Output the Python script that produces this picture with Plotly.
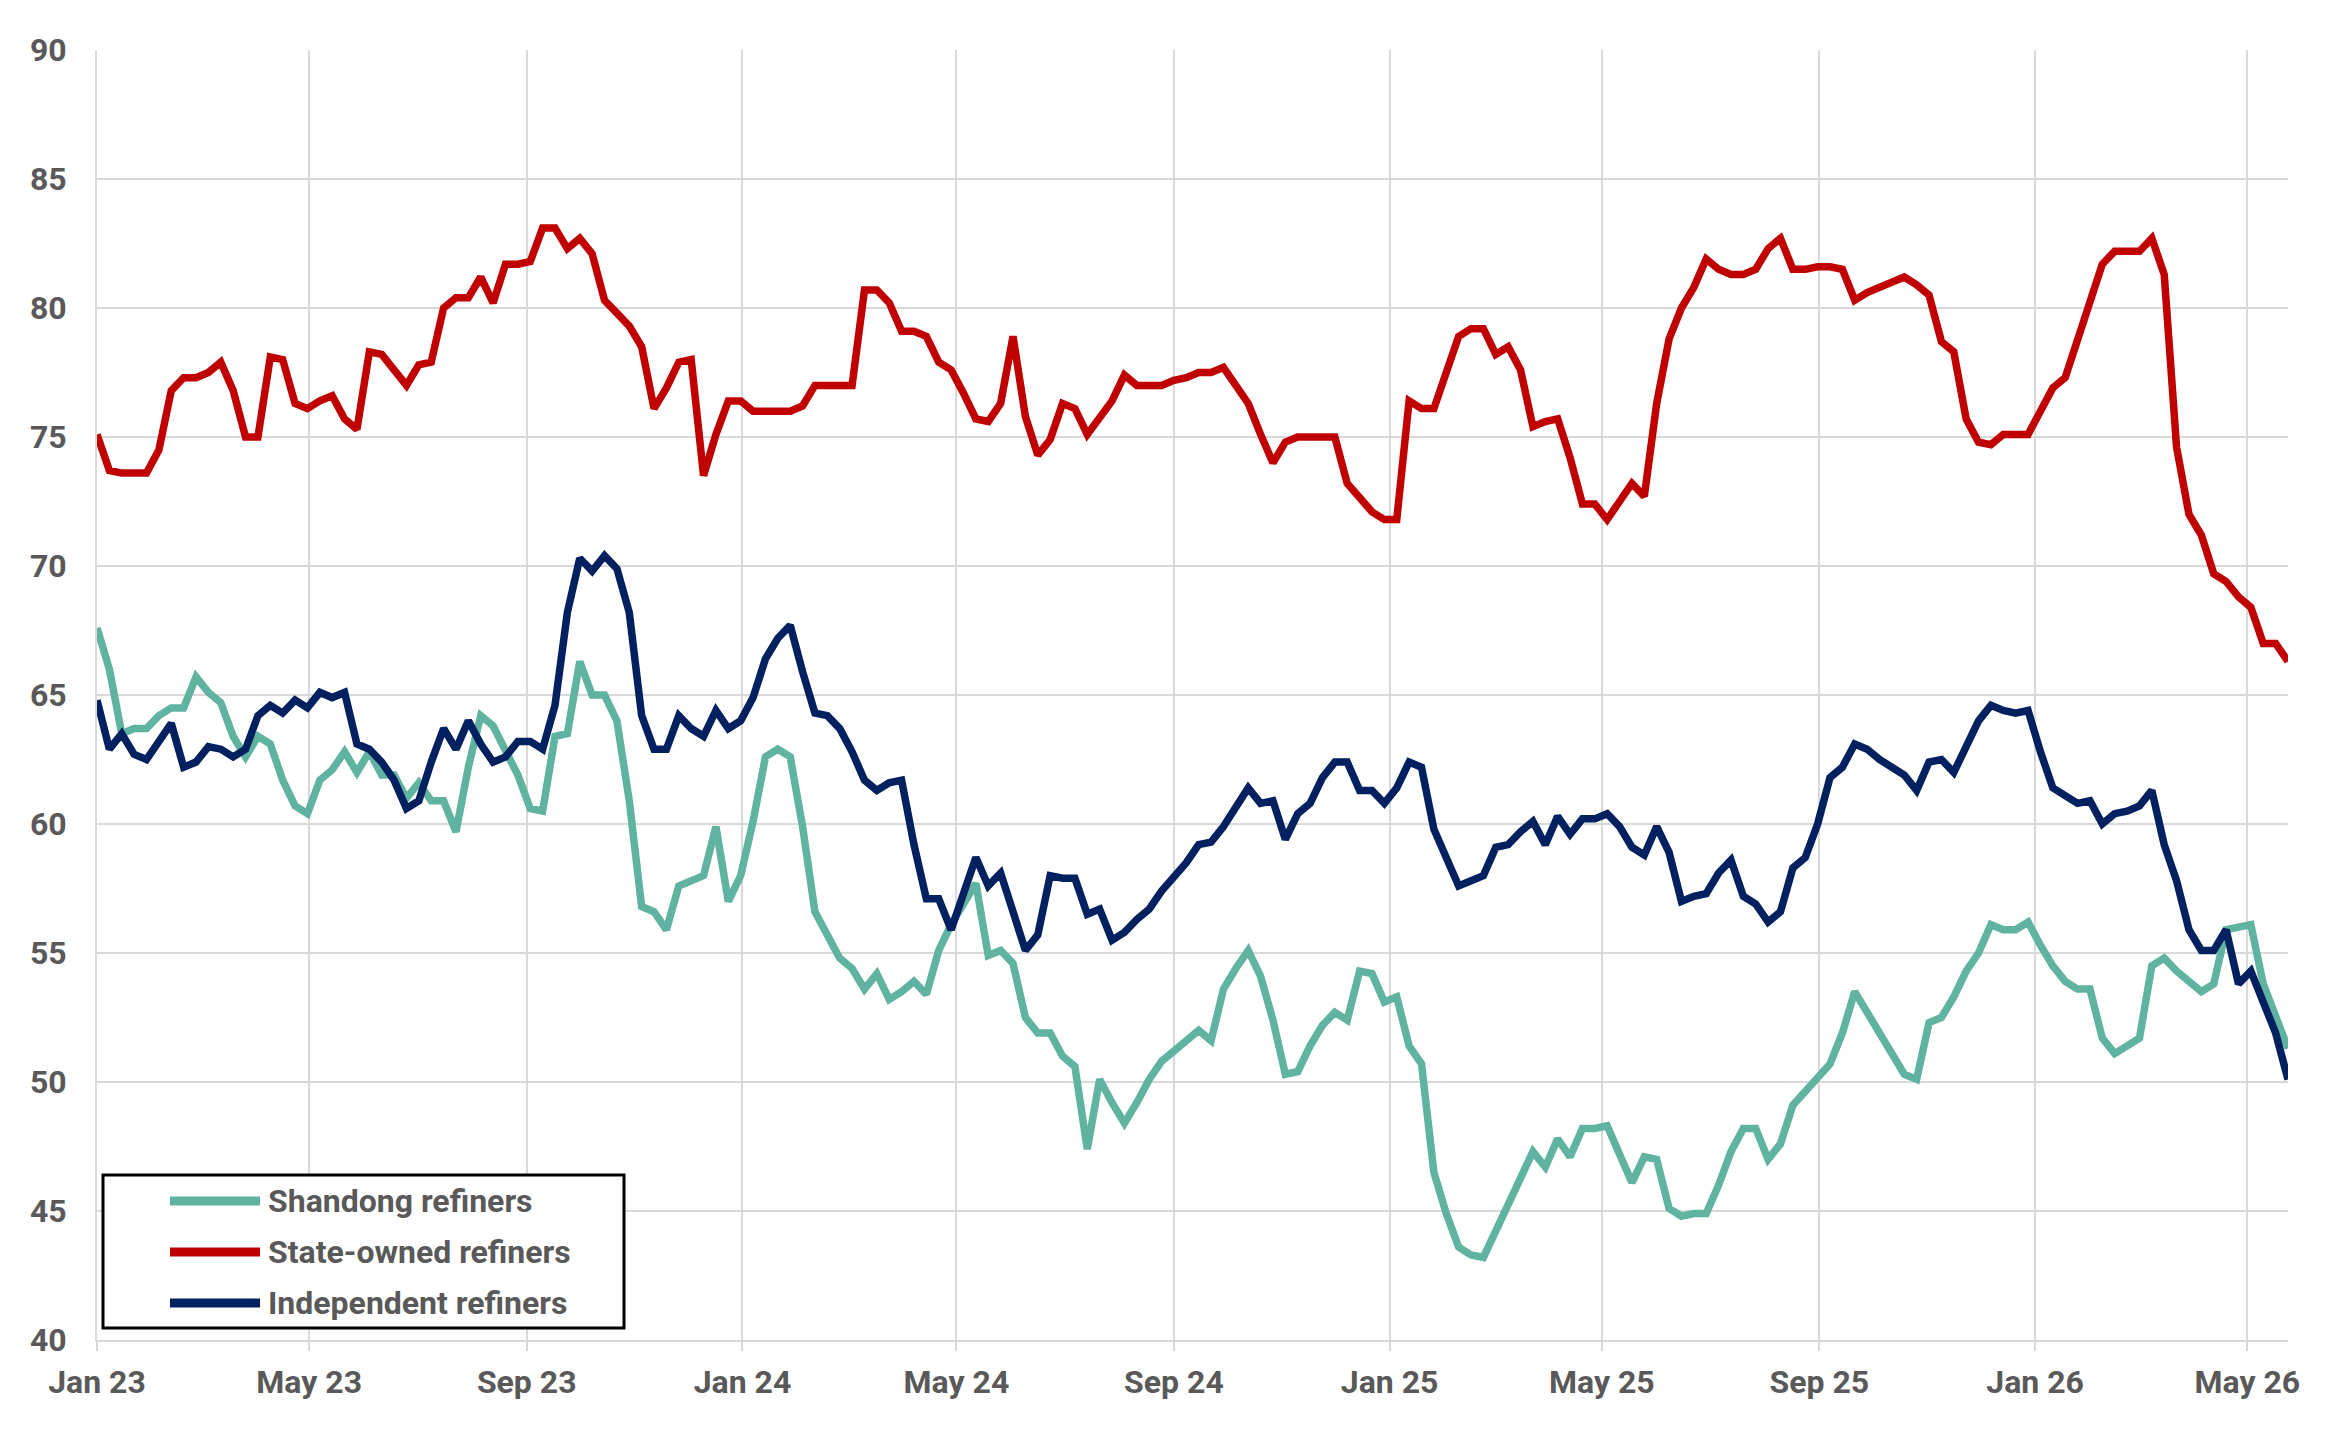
import pandas as pd
import plotly.graph_objects as go

# ---------------- data (weekly readings) ----------------
shandong = [
    67.6, 66.0, 63.5, 63.7, 63.7, 64.2, 64.5, 64.5, 65.7, 65.1,
    64.7, 63.4, 62.6, 63.4, 63.1, 61.7, 60.7, 60.4, 61.7, 62.1,
    62.8, 62.0, 62.8, 61.9, 61.9, 61.0, 61.6, 60.9, 60.9, 59.7,
    62.2, 64.2, 63.8, 62.9, 61.9, 60.6, 60.5, 63.4, 63.5, 66.3,
    65.0, 65.0, 64.0, 60.9, 56.8, 56.6, 55.9, 57.6, 57.8, 58.0,
    59.9, 57.0, 58.0, 60.1, 62.6, 62.9, 62.6, 59.9, 56.6, 55.7,
    54.8, 54.4, 53.6, 54.2, 53.2, 53.5, 53.9, 53.4, 55.1, 56.1,
    56.9, 57.7, 54.9, 55.1, 54.6, 52.5, 51.9, 51.9, 51.0, 50.6,
    47.4, 50.1, 49.2, 48.4, 49.2, 50.1, 50.8, 51.2, 51.6, 52.0,
    51.6, 53.6, 54.4, 55.1, 54.1, 52.4, 50.3, 50.4, 51.4, 52.2,
    52.7, 52.4, 54.3, 54.2, 53.1, 53.3, 51.4, 50.7, 46.5, 44.9,
    43.6, 43.3, 43.2, 44.2, 45.2, 46.3, 47.3, 46.7, 47.8, 47.1,
    48.2, 48.2, 48.3, 47.2, 46.1, 47.1, 47.0, 45.1, 44.8, 44.9,
    44.9, 46.0, 47.3, 48.2, 48.2, 47.0, 47.6, 49.1, 49.6, 50.1,
    50.7, 51.9, 53.5, 52.7, 51.9, 51.1, 50.3, 50.1, 52.3, 52.5,
    53.3, 54.3, 55.0, 56.1, 55.9, 55.9, 56.2, 55.3, 54.5, 53.9,
    53.6, 53.6, 51.7, 51.1, 51.4, 51.7, 54.5, 54.8, 54.3, 53.9,
    53.5, 53.8, 55.9, 56.0, 56.1, 53.8, 52.6, 51.3,
]

state_owned = [
    75.1, 73.7, 73.6, 73.6, 73.6, 74.5, 76.8, 77.3, 77.3, 77.5,
    77.9, 76.8, 75.0, 75.0, 78.1, 78.0, 76.3, 76.1, 76.4, 76.6,
    75.7, 75.3, 78.3, 78.2, 77.6, 77.0, 77.8, 77.9, 80.0, 80.4,
    80.4, 81.2, 80.2, 81.7, 81.7, 81.8, 83.1, 83.1, 82.3, 82.7,
    82.1, 80.3, 79.8, 79.3, 78.5, 76.1, 76.9, 77.9, 78.0, 73.5,
    75.1, 76.4, 76.4, 76.0, 76.0, 76.0, 76.0, 76.2, 77.0, 77.0,
    77.0, 77.0, 80.7, 80.7, 80.2, 79.1, 79.1, 78.9, 77.9, 77.6,
    76.7, 75.7, 75.6, 76.3, 78.9, 75.8, 74.3, 74.9, 76.3, 76.1,
    75.1, 75.7, 76.4, 77.4, 77.0, 77.0, 77.0, 77.2, 77.3, 77.5,
    77.5, 77.7, 77.0, 76.3, 75.1, 74.0, 74.8, 75.0, 75.0, 75.0,
    75.0, 73.2, 72.7, 72.1, 71.8, 71.8, 76.4, 76.1, 76.1, 77.5,
    78.9, 79.2, 79.2, 78.2, 78.5, 77.6, 75.4, 75.6, 75.7, 74.2,
    72.4, 72.4, 71.8, 72.5, 73.2, 72.7, 76.3, 78.8, 80.0, 80.8,
    81.9, 81.5, 81.3, 81.3, 81.5, 82.3, 82.7, 81.5, 81.5, 81.6,
    81.6, 81.5, 80.3, 80.6, 80.8, 81.0, 81.2, 80.9, 80.5, 78.7,
    78.3, 75.7, 74.8, 74.7, 75.1, 75.1, 75.1, 76.0, 76.9, 77.3,
    78.7, 80.1, 81.7, 82.2, 82.2, 82.2, 82.7, 81.3, 74.6, 72.0,
    71.2, 69.7, 69.4, 68.8, 68.4, 67.0, 67.0, 66.3,
]

independent = [
    64.8, 62.9, 63.5, 62.7, 62.5, 63.2, 63.9, 62.2, 62.4, 63.0,
    62.9, 62.6, 62.9, 64.2, 64.6, 64.3, 64.8, 64.5, 65.1, 64.9,
    65.1, 63.1, 62.9, 62.4, 61.7, 60.6, 60.9, 62.4, 63.7, 62.9,
    64.0, 63.1, 62.4, 62.6, 63.2, 63.2, 62.9, 64.6, 68.2, 70.3,
    69.8, 70.4, 69.9, 68.2, 64.2, 62.9, 62.9, 64.2, 63.7, 63.4,
    64.4, 63.7, 64.0, 64.9, 66.4, 67.2, 67.7, 65.9, 64.3, 64.2,
    63.7, 62.8, 61.7, 61.3, 61.6, 61.7, 59.2, 57.1, 57.1, 55.9,
    57.3, 58.7, 57.6, 58.1, 56.6, 55.1, 55.7, 58.0, 57.9, 57.9,
    56.5, 56.7, 55.5, 55.8, 56.3, 56.7, 57.4, 57.9, 58.5, 59.2,
    59.3, 59.9, 60.6, 61.4, 60.8, 60.9, 59.4, 60.4, 60.8, 61.8,
    62.4, 62.4, 61.3, 61.3, 60.8, 61.4, 62.4, 62.2, 59.8, 58.7,
    57.6, 57.8, 58.0, 59.1, 59.2, 59.7, 60.1, 59.2, 60.3, 59.6,
    60.2, 60.2, 60.4, 59.9, 59.1, 58.8, 59.9, 58.9, 57.0, 57.2,
    57.3, 58.1, 58.6, 57.2, 56.9, 56.2, 56.6, 58.3, 58.7, 60.0,
    61.8, 62.2, 63.1, 62.9, 62.5, 62.2, 61.9, 61.3, 62.4, 62.5,
    62.0, 63.0, 64.0, 64.6, 64.4, 64.3, 64.4, 62.8, 61.4, 61.1,
    60.8, 60.9, 60.0, 60.4, 60.5, 60.7, 61.3, 59.2, 57.8, 55.9,
    55.1, 55.1, 55.9, 53.8, 54.3, 53.1, 51.9, 50.1,
]

series_names = ["Shandong refiners", "State-owned refiners", "Independent refiners"]
series_colors = ["#5FB3A0", "#C00000", "#002060"]
dates = pd.date_range("2023-01-01", periods=len(shandong), freq="7D")

# ---------------- figure ----------------
W, H = 2339, 1429
ML, MR, MT, MB = 97, 51, 50, 89
label_color = "#595959"
grid_color = "#D9D9D9"
FS = 32

fig = go.Figure()
for name, vals, col in zip(series_names, [shandong, state_owned, independent], series_colors):
    fig.add_trace(go.Scatter(
        x=dates, y=vals, name=name, mode="lines",
        line=dict(color=col, width=7.5), showlegend=False,
    ))

fig.update_layout(
    width=W, height=H,
    margin=dict(l=ML, r=MR, t=MT, b=MB),
    paper_bgcolor="white", plot_bgcolor="white",
    font=dict(family="Roboto", color=label_color),
)

fig.update_xaxes(
    type="date",
    range=["2023-01-01", "2026-05-24"],
    tick0="2023-01-01", dtick="M4", tickformat="%b %y",
    showgrid=True, gridcolor=grid_color, gridwidth=2,
    showline=True, linecolor=grid_color, linewidth=2,
    ticks="outside", ticklen=9, tickwidth=2, tickcolor=grid_color,
    tickfont=dict(family="Roboto", size=FS, color=label_color, weight="bold"),
    ticklabelstandoff=4,
    zeroline=False,
)
fig.update_yaxes(
    range=[40, 90], dtick=5, tick0=40,
    showgrid=True, gridcolor=grid_color, gridwidth=2,
    showline=True, linecolor=grid_color, linewidth=2,
    ticks="",
    tickfont=dict(family="Roboto", size=FS, color=label_color, weight="bold"),
    ticklabelstandoff=22,
    zeroline=False,
)

# ---------------- custom legend (box, line samples, labels) ----------------
pw = W - ML - MR
ph = H - MT - MB

def px_x(x):
    return (x - ML) / pw

def px_y(y):
    return (H - MB - y) / ph

fig.add_shape(type="rect", xref="paper", yref="paper",
              x0=px_x(103), x1=px_x(624), y0=px_y(1328), y1=px_y(1175),
              line=dict(color="black", width=3), fillcolor="white", layer="above")

row_y = [1201, 1252, 1303]
for name, col, ry in zip(series_names, series_colors, row_y):
    fig.add_shape(type="line", xref="paper", yref="paper",
                  x0=px_x(170), x1=px_x(260), y0=px_y(ry), y1=px_y(ry),
                  line=dict(color=col, width=9), layer="above")
    fig.add_annotation(xref="paper", yref="paper", x=px_x(266), y=px_y(ry),
                       text=name, showarrow=False, xanchor="left", yanchor="middle",
                       font=dict(family="Roboto", size=FS, color=label_color, weight="bold"))

fig.write_html("out.html")
